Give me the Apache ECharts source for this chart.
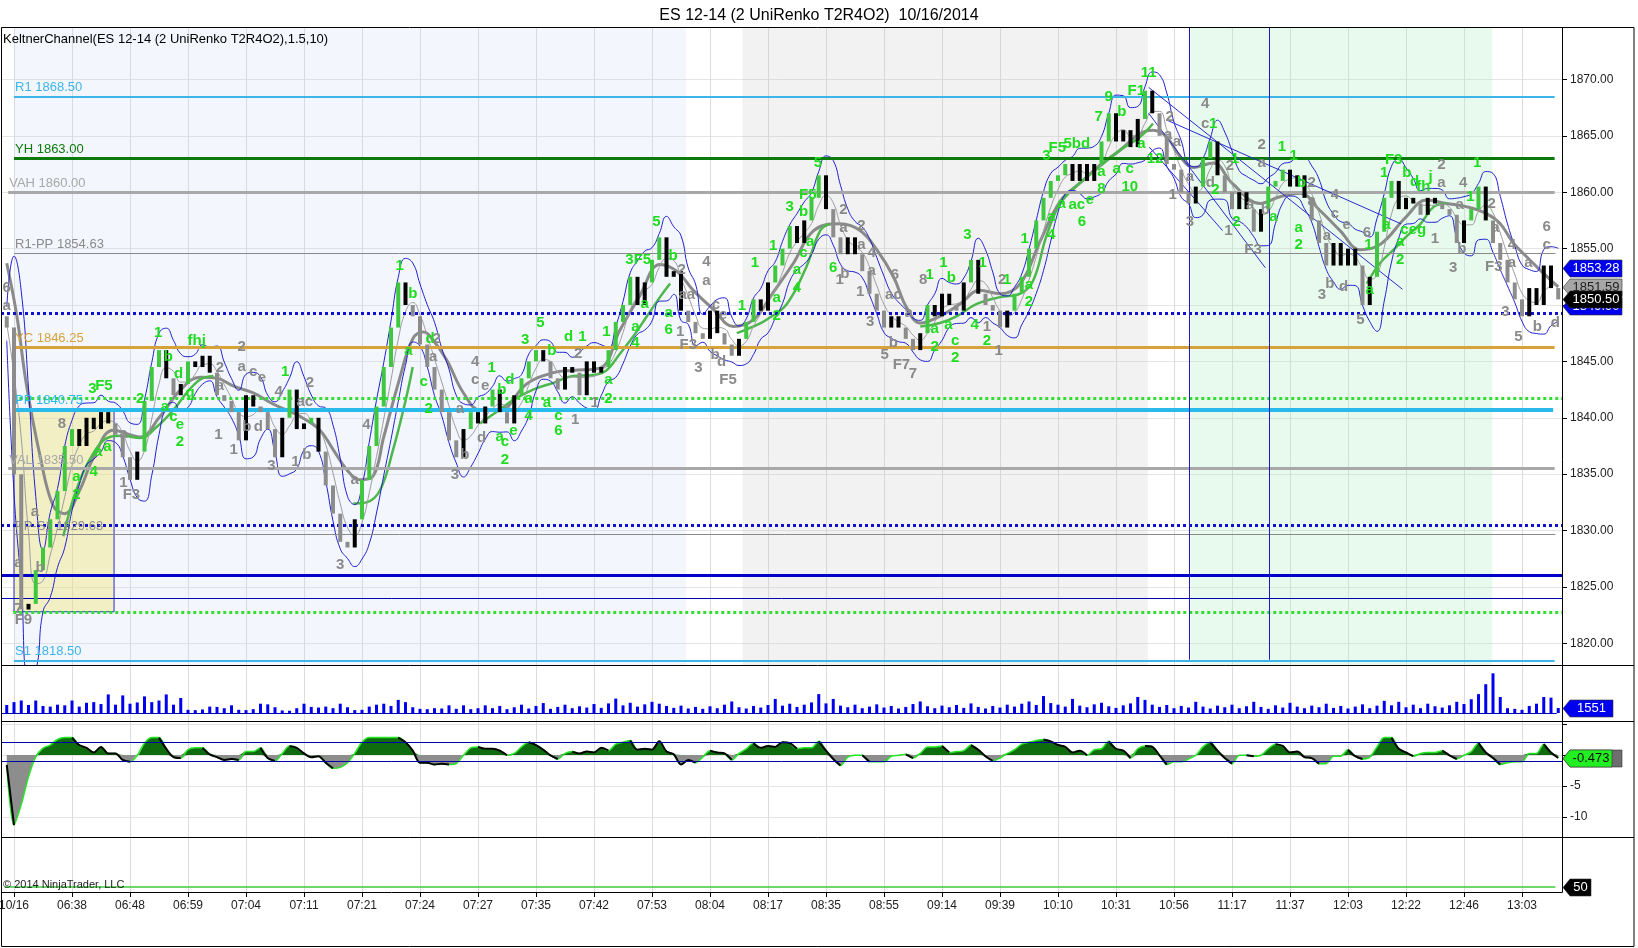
<!DOCTYPE html>
<html><head><meta charset="utf-8">
<script src="https://cdn.jsdelivr.net/npm/echarts@6/dist/echarts.min.js"></script>
<style>html,body{margin:0;padding:0;background:#fff}#c{width:1638px;height:948px}</style>
</head><body><div id="c"></div>
<script>
// ---------------- DATA ----------------
const timeLabels = ['10/16','06:38','06:48','06:59','07:04','07:11','07:21','07:24','07:27','07:35','07:42','07:53','08:04','08:17','08:35','08:55','09:14','09:39','10:10','10:31','10:56','11:17','11:37','12:03','12:22','12:46','13:03'];

const firstOpen = 1849;
const closes = [
1848,1835,1823,1823.5,1826.5,1828.5,1831,1833.5,1837.5,1839,
1837.5,1840,1839,1840.5,1839.5,1838.5,1836.5,1834.5,1837,1841.5,
1844.5,1846,1843.5,1842,1843,1845,1844.5,1845.5,1844,1842,
1841.5,1840.5,1838,1842,1841,1840.5,1839,1836.5,1840,1842.5,
1839,1839.5,1840,1837,1834,1831.5,1829,1828.5,1831,1834.5,
1837.5,1841,1844.5,1848,1852,1850,1849,1846.5,1844.5,1842.5,
1840.5,1838,1836.5,1839,1840.5,1839.5,1841,1842.5,1840.5,1839.5,
1842,1843.5,1845,1846,1845,1843.5,1842.5,1844.5,1844,1842,
1845,1844,1844.5,1846,1848.5,1850,1852.5,1850,1852,1854,
1856,1852.5,1853,1849.5,1848.5,1847.5,1847,1849.5,1847.5,1846.5,
1845.5,1847,1848.5,1850.5,1849.5,1852,1853.5,1855,1857,1855.5,
1857.5,1859.5,1861.5,1858.5,1856,1854.5,1856,1854.5,1853,1851,
1849.5,1848,1849,1848,1847,1846,1847.5,1850,1849,1851,
1850,1849.5,1852,1854,1851,1850,1849.5,1848,1849.5,1851,
1852.5,1855,1857.5,1859.5,1861,1861.5,1862.5,1861,1862.5,1861,
1862.5,1864.5,1867,1864.5,1865.5,1864,1866.5,1869,1867,1865,
1862.5,1862,1860,1859,1860.5,1863,1864.5,1861.5,1860,1858.5,
1860,1858.5,1856.5,1858.5,1860.5,1861,1862,1860.5,1861.5,1859.5,
1857.5,1855.5,1853.5,1855.5,1853.5,1855,1853.5,1850,1852.5,1856.5,
1859.5,1861,1858.5,1859.5,1859,1858,1859.5,1859,1858.5,1858,
1855.5,1857.5,1858.5,1860.5,1857.5,1855.5,1854,1852,1850.5,1849,
1851.5,1850,1853.5,1851.5,1850.5];

const volumes = [
2500,3400,3900,2500,3900,2200,2000,2600,2400,3900,
2000,3200,3400,2800,5800,2600,5500,2900,3300,5200,
3400,3900,5800,2600,4700,1000,900,1100,2000,1900,
1500,2400,1000,900,1200,2900,2700,1800,800,700,
1500,2900,1900,1700,2000,1500,2900,1800,900,1000,
2000,2600,2900,2200,4100,3400,1800,1300,1200,1500,
1400,2400,1300,2400,1200,1500,2400,1500,2200,1200,
1800,2600,1400,2200,3100,1300,1900,2600,1500,2100,
1700,2800,1600,3000,4500,2400,3200,2000,2700,3500,
2900,2200,1600,2300,1400,1900,1300,2100,1500,2600,
3600,1800,1400,2200,1700,2500,4400,2300,2900,1900,
2600,3300,5900,3000,4400,2300,1800,2600,1500,2000,
2700,1700,2200,1400,1900,2800,3600,2100,1500,2300,
1800,2500,1600,3000,1900,1400,2200,1700,2600,2000,
2900,3600,2500,5300,3100,2600,2000,4400,2300,1800,
2700,3200,2100,1600,2400,3000,5000,4100,2600,1900,
2500,1500,2200,1700,3500,2000,1400,2300,1800,2600,
1500,2100,3500,1900,1300,2400,1700,3200,2000,1500,
2300,1800,2900,1600,2200,1400,2000,2700,1500,2300,
3800,2400,3500,1800,2600,1500,2900,2100,1700,2400,
3500,2800,4300,5900,9000,12400,5000,1500,1300,1000,
2200,2900,5000,4800,1551];

const oscValues = [
-1.6,-11.3,-8,-3.5,-0.3,1.1,1.6,2.5,2.8,2.8,
1.6,1.15,0.4,1.3,0.25,0.25,-0.8,-1.1,-0.05,1.9,
2.8,2.8,1.0,-0.35,-0.5,0.85,1.15,1.15,0.1,-0.35,
-0.8,-0.65,-0.8,0.55,0.55,1.15,-0.5,-0.95,0.25,1.45,
1.15,0.25,-0.35,-0.2,-1.25,-2.15,-2.0,-1.25,0.25,2.05,
2.8,2.8,2.8,2.8,2.8,2.05,0.7,-1.25,-1.25,-1.55,
-1.4,-1.55,-1.4,-0.05,1.15,1.3,1.0,1.0,0.7,-0.05,
0.25,1.3,2.05,1.6,0.85,-0.05,-0.65,0.25,0.55,0.25,
0.55,0.4,1.15,0.7,1.75,2.05,2.35,0.85,1.0,0.85,
2.2,0.55,0.1,-1.55,-0.8,-1.25,-0.35,0.7,0.4,0.25,
-0.8,0.25,1.0,1.9,1.15,1.45,1.3,2.05,1.9,1.0,
1.15,1.15,2.2,0.7,-0.65,-1.7,-0.35,-0.05,-0.05,-1.1,
-1.1,-1.1,-0.2,-0.05,0.1,-0.5,0.25,1.3,1.3,1.45,
0.4,0.55,0.7,1.6,0.85,-0.2,-0.95,-0.5,0.25,0.85,
1.75,2.05,2.35,2.5,2.2,1.6,1.3,0.4,0.7,-0.05,
0.85,1.0,2.2,1.0,0.7,-0.5,1.0,1.45,1.3,-0.05,
-1.55,-1.1,-1.1,-0.65,-0.05,1.3,2.05,0.7,-0.5,-1.4,
-0.05,-0.05,-0.2,-0.05,1.0,1.75,1.45,0.4,0.55,-0.35,
-0.5,-1.4,-1.4,-0.2,-0.2,0.85,-0.2,-0.65,-0.35,1.3,
2.8,2.8,1.0,0.4,-0.2,0.25,0.4,0.4,0.7,-0.05,
-0.65,-0.05,0.55,1.9,0.4,-0.5,-1.55,-1.25,-1.1,-1.1,
0.25,0.25,1.75,0.4,-0.473];
const oscBands = [2, -1];

const grayMA = [[0,1853.7],[1.4,1849],[2.7,1843],[4.6,1836.6],[6.4,1832.2],[8,1831.5],[10,1833.5],[12,1836.5],[14.7,1838.9],[18.4,1838.3],[21,1840],[24,1842.5],[26.7,1843.6],[29,1843.5],[31.3,1842.8],[34,1842.2],[36.8,1841.2],[40.5,1840.1],[43.2,1838.9],[45,1837.2],[46.9,1835.4],[48.7,1834.5],[50.5,1834.8],[52,1838.3],[54.2,1843.5],[56,1847],[57.5,1847.6],[58.8,1846.9],[60.7,1845.1],[63,1842.2],[65.3,1840.7],[68,1840.7],[71.7,1843],[75.4,1844],[78.1,1844.2],[81.8,1844.4],[84.6,1847.8],[87.3,1850.8],[90.1,1853.6],[92.4,1853],[94.7,1851.3],[97.5,1849.6],[100.2,1848.1],[103,1848.7],[105.7,1851.1],[108.5,1853.7],[111.3,1856.6],[114.9,1857.2],[117.7,1856.6],[120,1854.9],[122.3,1852.5],[124.1,1849.8],[126,1848.4],[128.7,1849],[131.5,1850.1],[134.2,1851.3],[137,1851],[139.8,1851.9],[142.5,1855.6],[145.3,1859.2],[148,1860.8],[150.8,1862.4],[153.5,1863.7],[156.3,1865.2],[158.1,1865.5],[160,1864.9],[161.8,1863.2],[163.7,1862.2],[166.4,1862.6],[169,1860.8],[172.9,1859],[175.6,1859.6],[178.4,1859.9],[181.1,1858.4],[183.9,1856.6],[186.7,1854.9],[189.5,1855.4],[193,1857.8],[195.8,1859.3],[198.6,1859],[201.4,1858.7],[204.1,1858.1],[206,1857.2],[207.8,1855.5],[209.6,1854.3],[211.5,1853.1],[214,1851.6]];

const greenSegments = [
 [[7.8,1829.5],[9.6,1833.6],[12,1836.9],[14.2,1838.3],[16,1838.4],[18.4,1838.2],[20.7,1839.2],[23,1840.7],[24.8,1842.2],[26.7,1843.4],[28.5,1843.7]],
 [[47.8,1832.4],[49.6,1832.5],[51.5,1833.6],[53.3,1837.2],[55,1841.5],[56,1844.5]],
 [[65.3,1839.5],[67.5,1840.5],[69.9,1841.6],[72.6,1842.5],[75.4,1843.1],[78.1,1843.7],[80.9,1843.8],[82.7,1844.2],[84.6,1845.7],[86.4,1847.2],[88.3,1849],[90.1,1850.7],[91.5,1851.9]],
 [[100.7,1847.5],[103,1848.1],[104.8,1848.7],[107.6,1850.1],[110.3,1853.4],[112.2,1856.6],[113.5,1857.2]],
 [[126,1848.1],[128.7,1848.4],[131,1849],[133.8,1850.1],[137,1850.7],[139.8,1851],[141.6,1852.2],[143.4,1856.1],[145.3,1859],[148,1860.8],[150.8,1862.3],[153.5,1863.7],[156.3,1864.9],[158.1,1866.1]],
 [[187.6,1851.9],[189.4,1853.7],[191.3,1854.9],[193.1,1856.1],[195,1857.2],[196.8,1858.7],[198.6,1859]]
];

const levels = [
 ['R1',1868.50,'R1 1868.50'],['YH',1863.00,'YH 1863.00'],['VAH',1860.00,'VAH 1860.00'],
 ['R1-PP',1854.63,'R1-PP 1854.63'],['KH',1849.25,''],['YC',1846.25,'YC 1846.25'],
 ['GH',1841.75,''],['PP',1840.75,'PP 1840.75'],['VAL',1835.50,'VAL 1835.50'],
 ['KL',1830.45,''],['PP-S1',1829.63,'PP-S1 1829.63'],['BL',1826.00,''],
 ['BT',1824.00,''],['GL',1822.75,''],['S1',1818.50,'S1 1818.50']
];

const sessions = [[1,93.7,'blue'],[101.5,157.4,'gray'],[163.3,204.9,'green']];
const yellowBox = [1,1840.75,14.8,1822.8];
const verticalLines = [163.1,174.15];
const channelLines = [[157.5,1867.0,173.6,1853.3],[157.5,1869.3,192.5,1851.4],[160.0,1866.4,192.3,1857.2],[157.6,1864.0,167.7,1856.6]];

const waveLabels = [
[0,1851.5,'6','k'],[0,1849.9,'a','k'],[1.6,1827.1,'a','k'],[4.6,1826.7,'b','k'],[1.6,1823.1,'7','k'],[2.3,1822.1,'F9','k'],
[3.9,1831.7,'a','k'],[7.6,1839.5,'8','k'],[9.6,1834.8,'a','g'],[9.6,1833.2,'2','g'],[12,1835.2,'4','g'],[12.6,1837,'a','g'],[13.9,1837.4,'a','g'],
[11.8,1842.6,'3','g'],[13.4,1842.8,'F5','g'],[16.1,1838.6,'a','k'],[16.1,1834.2,'1','k'],[17.2,1833.2,'F3','k'],[18.4,1841.7,'2','g'],
[20.9,1847.5,'1','g'],[22.3,1845.4,'b','g'],[23.7,1843.9,'d','g'],[25.3,1842.2,'g','g'],[21.8,1841,'a','g'],[23,1840.1,'c','g'],[23.9,1839.4,'e','g'],[23.9,1837.9,'2','g'],
[26.2,1846.8,'fhj','g'],[32.4,1846.3,'2','k'],[29.4,1844.4,'2','k'],[32.4,1844.5,'a','k'],[34,1844.1,'c','k'],[35.2,1843.5,'e','k'],[29.4,1842.8,'a','k'],
[29.2,1838.5,'1','k'],[31.3,1837.2,'1','k'],[33.1,1839.2,'b','k'],[34.7,1839.2,'d','k'],[38.4,1844.1,'1','g'],[37.5,1842.3,'4','k'],[41.8,1843.1,'2','k'],[41.1,1841.4,'ac','k'],
[36.5,1835.7,'3','k'],[39.8,1836.1,'1','k'],[41.4,1836.7,'b','k'],[49.6,1839.4,'4','k'],[48,1834.5,'a','k'],[46,1827,'3','k'],
[54.2,1853.5,'1','g'],[56,1851,'b','g'],[55.4,1845.9,'a','g'],
[58.4,1847,'d','g'],[59.3,1847,'2','k'],[58.8,1845.4,'a','k'],[57.5,1843.2,'c','g'],[58.2,1840.8,'2','g'],[62.5,1840.8,'a','k'],
[64.6,1845,'4','k'],[64.6,1843.4,'c','k'],[66,1842.8,'e','k'],[66.9,1844.4,'1','g'],[68.3,1842.5,'b','g'],[69.4,1843.4,'d','g'],
[65.5,1838.2,'d','k'],[63.2,1836.7,'b','k'],[61.8,1834.9,'3','k'],[68,1838.3,'a','g'],[68.7,1837.9,'c','g'],[69.9,1838.8,'e','g'],[68.7,1836.3,'2','g'],
[71.5,1846.9,'3','g'],[73.6,1848.4,'5','g'],[75.2,1845.9,'b','g'],[72,1841.7,'a','g'],[72,1840.2,'4','g'],[74.5,1841.3,'a','g'],[76.1,1840.2,'c','g'],[76.1,1838.8,'6','g'],
[77.5,1847.2,'d','g'],[79.4,1847.2,'1','g'],[78.8,1845.7,'2','k'],[78.4,1839.8,'1','k'],[81.1,1841.3,'1','k'],[83,1843.4,'a','g'],[83,1841.7,'2','g'],[82.7,1847.6,'1','g'],
[87.1,1854,'3F5','g'],[89.6,1857.4,'5','g'],[91.9,1854.4,'b','g'],[93.1,1853.1,'2','k'],[93.8,1850.9,'aa','k'],
[88,1850.1,'a','g'],[86.7,1848.1,'a','g'],[86.7,1846.6,'4','g'],[91.3,1849.3,'a','g'],[91.3,1847.8,'6','g'],
[92.9,1847.6,'1','k'],[94,1846.5,'F3','k'],[95.4,1844.4,'3','k'],[96.5,1853.8,'4','k'],[96.5,1852.1,'a','k'],[97.8,1850,'c','k'],[98.8,1849.1,'e','k'],
[97.7,1845.6,'b','k'],[98.6,1845,'d','k'],[99.5,1843.4,'F5','k'],[101.4,1849.9,'1','g'],[103.2,1853.7,'1','g'],[106.2,1850.6,'a','g'],[106.2,1849,'2','g'],[105.7,1855.2,'1','g'],
[108,1858.7,'3','g'],[109.9,1858.3,'b','g'],[110.5,1859.8,'F5','g'],[109.9,1854.6,'c','g'],[110.8,1855.6,'a','g'],[109,1853.1,'a','g'],[109,1851.5,'4','g'],
[111.9,1862.6,'5','g'],[115.4,1858.4,'2','k'],[117.9,1857,'2','k'],[115.4,1856.8,'a','k'],[117.9,1855.3,'a','k'],[119.3,1854.6,'4','k'],[119.3,1853,'a','k'],
[114,1853.3,'6','g'],[115.6,1852.8,'b','k'],[114.9,1852.2,'1','k'],[117.7,1851.2,'1','k'],[119.1,1848.5,'3','k'],
[122.5,1852.7,'6','k'],[122.3,1850.9,'ac','k'],[124.4,1849.3,'a','k'],[121.1,1845.6,'5','k'],[122.3,1846.6,'b','k'],[123.4,1844.7,'F7','k'],[125,1843.9,'7','k'],
[126.4,1852.2,'8','k'],[127.3,1852.7,'1','g'],[129.2,1853.7,'1','g'],[130.3,1852.4,'b','g'],[132.5,1856.2,'3','g'],[134.6,1853.7,'1','g'],
[128,1847.9,'a','g'],[128,1846.3,'2','g'],[129.9,1848.2,'a','g'],[130.8,1846.8,'c','g'],[130.8,1845.3,'2','g'],
[133.5,1848.2,'4','g'],[135.2,1848.1,'1','k'],[135.2,1846.8,'2','g'],[136.8,1845.9,'1','k'],
[137.3,1852.2,'2','k'],[138,1852.2,'1','g'],[141,1851.8,'a','g'],[141,1850.3,'2','g'],[140.4,1855.9,'1','g'],
[143.4,1863.2,'3','g'],[144.9,1863.9,'F5','g'],[147.6,1864.3,'5bd','g'],[144.1,1857.8,'a','g'],[144.1,1856.2,'4','g'],[145.5,1859,'a','g'],[147.6,1858.9,'ac','g'],[149.4,1859.3,'e','g'],[148.3,1857.4,'6','g'],[151,1861.8,'a','g'],[151,1860.3,'8','g'],
[150.6,1866.7,'7','g'],[152,1868.5,'9','g'],[153.8,1867.1,'b','g'],[153.1,1862.1,'a','g'],[154.9,1862.1,'c','g'],[154.9,1860.5,'10','g'],[156.5,1864.3,'a','g'],
[155.8,1869,'F1','g'],[157.5,1870.6,'11','g'],[160.4,1866.7,'2','k'],[160.2,1865.1,'a','k'],[161.4,1864.5,'a','k'],[158.4,1863,'12','g'],[163.2,1857.4,'3','k'],[160.8,1859.8,'1','k'],
[165.3,1867.8,'4','k'],[165.3,1866.1,'c','k'],[166.4,1866.1,'1','g'],
[163.2,1861.4,'a','k'],[166,1860.8,'d','k'],[166.7,1860.2,'2','g'],[168.7,1862.3,'2','k'],[169.4,1863,'1','g'],
[168.5,1856.6,'1','k'],[169.6,1857.4,'2','g'],[171.5,1858.9,'a','k'],[173.6,1858.4,'b','k'],[171.9,1854.9,'F3','k'],
[173.1,1864.2,'2','k'],[173.1,1862.6,'a','k'],[175.9,1864,'1','g'],[177.5,1863.2,'1','g'],[174.7,1857.8,'a','g'],
[178.6,1860.8,'b','g'],[180,1860.8,'2','k'],[180,1859.2,'a','k'],[183.2,1859.8,'4','k'],[183.2,1858.1,'c','k'],[184.8,1857.1,'e','k'],[182.1,1856.1,'a','k'],
[178.2,1856.8,'a','g'],[178.2,1855.3,'2','g'],[181.4,1850.9,'3','k'],[182.5,1851.9,'b','k'],[184.4,1851.6,'d','k'],
[187.6,1856.4,'6','k'],[187.8,1855.3,'1','g'],[188,1851.3,'a','g'],[186.7,1848.7,'5','k'],
[190,1861.7,'1','g'],[191.3,1862.9,'F3','g'],[193.1,1861.7,'b','g'],[194.2,1860.9,'d','g'],[195.4,1860.5,'fh','g'],[196.4,1861.4,'j','g'],
[190.3,1857.1,'a','g'],[194,1856.7,'ceg','g'],[192.2,1855.6,'a','g'],[192.2,1854,'2','g'],
[197.9,1862.4,'2','k'],[197.9,1860.8,'a','k'],[197,1855.9,'1','k'],[200.9,1860.8,'4','k'],[200.4,1858.9,'a','k'],[200.7,1855,'b','k'],[199.5,1853.3,'3','k'],
[202.8,1862.6,'1','g'],[201.9,1859.6,'1','g'],[204.8,1859,'2','k'],[205.3,1856.8,'a','k'],
[205.1,1853.4,'F3','k'],[207.6,1855.3,'4','k'],[207.6,1853.7,'a','k'],[209.9,1853.7,'a','k'],
[206.7,1849.4,'3','k'],[208.5,1847.2,'5','k'],[211.1,1848.1,'b','k'],[213.6,1848.4,'d','k'],[212.4,1856.9,'6','k'],[212.4,1855.3,'c','k']
];

const priceTags = [['lower',1849.90],['mid',1851.59],['upper',1853.28],['last',1850.50]];
const volumeTag = 1551;
const oscTag = -0.473;
const bottomLevel = 50;

const titleText = 'ES 12-14 (2 UniRenko T2R4O2)  10/16/2014';
const indicatorText = 'KeltnerChannel(ES 12-14 (2 UniRenko T2R4O2),1.5,10)';
const copyrightText = '\u00a9 2014 NinjaTrader, LLC';

// ---------------- STYLE / LAYOUT ----------------
const FONT = '"Liberation Sans", Arial, Helvetica, sans-serif';
const X_MIN = -0.793, X_MAX = 214.517;
const levelStyle = {
 'R1':{c:'#3db5e8',w:2,t:'solid',from:1,to:213.5},
 'YH':{c:'#0b7a0b',w:3,t:'solid',from:1,to:213.5},
 'VAH':{c:'#a8a8a8',w:3,t:'solid',from:0.2,to:213.5},
 'R1-PP':{c:'#8a8a8a',w:1,t:'solid',from:1,to:213.6},
 'KH':{c:'#1010d0',w:3,t:'dotted',from:X_MIN,to:X_MAX},
 'YC':{c:'#d6a23a',w:3,t:'solid',from:1,to:213.5},
 'GH':{c:'#33dd33',w:3,t:'dotted',from:0.9,to:X_MAX},
 'PP':{c:'#29b9ea',w:4,t:'solid',from:1,to:213.3},
 'VAL':{c:'#a8a8a8',w:3,t:'solid',from:0.2,to:213.5},
 'KL':{c:'#1010d0',w:3,t:'dotted',from:X_MIN,to:X_MAX},
 'PP-S1':{c:'#8a8a8a',w:1,t:'solid',from:1,to:213.6},
 'BL':{c:'#0000c8',w:3,t:'solid',from:X_MIN,to:X_MAX},
 'BT':{c:'#0000b0',w:1,t:'solid',from:X_MIN,to:X_MAX},
 'GL':{c:'#33dd33',w:3,t:'dotted',from:0.9,to:X_MAX},
 'S1':{c:'#3db5e8',w:2,t:'solid',from:1,to:213.5}
};
const shadeColors = {blue:'rgba(200,212,245,0.22)', gray:'rgba(200,200,200,0.24)', green:'rgba(175,238,195,0.30)'};
const waveColors = {g:'#1fdc1f', k:'#8a8a8a'};
const candleColors = ['#3fc83f','#8c8c8c','#000000'];
const tagStyle = {
 lower:{fill:'#0000ee',color:'#fff',w:59},
 mid:{fill:'#a6a6a6',color:'#222',w:59},
 upper:{fill:'#0000ee',color:'#fff',w:59},
 last:{fill:'#000',color:'#fff',w:59}
};

// ---------------- DERIVED ----------------
const opens = closes.map((c,i)=> i===0 ? firstOpen : closes[i-1]);
const highs = closes.map((c,i)=> Math.max(c, opens[i]));
const lows  = closes.map((c,i)=> Math.min(c, opens[i]));
const KC_PERIOD = 3, KC_MULT = 1.5;
const kcMid=[], kcUp=[], kcLo=[];
closes.forEach((c,i)=>{
  let s=0,r=0,n=0;
  for(let j=Math.max(0,i-KC_PERIOD+1);j<=i;j++){ s+=(highs[j]+lows[j]+closes[j])/3; r+=highs[j]-lows[j]; n++; }
  const m=s/n, rg=r/n;
  kcMid.push([i,m]); kcUp.push([i,m+KC_MULT*rg]); kcLo.push([i,m-KC_MULT*rg]);
});
const kinds = closes.map((c,i)=>{
  const up = c > opens[i];
  const prevUp = i===0 ? up : closes[i-1] > opens[i-1];
  if (up && prevUp) return 0;
  if (!up && !prevUp) return 1;
  return 2;
});

// ---------------- CHART ----------------
const chart = echarts.init(document.getElementById('c'), null, {renderer:'canvas'});
const series = [];

series.push({ type:'line', xAxisIndex:0, yAxisIndex:0, data:[], z:1, silent:true,
  markArea:{ silent:true, data: sessions.map(s=>[{xAxis:s[0], itemStyle:{color:shadeColors[s[2]]}},{xAxis:s[1]}])
    .concat([[{coord:[yellowBox[0],yellowBox[1]], itemStyle:{color:'rgba(240,228,120,0.42)', borderColor:'#2a2ad0', borderWidth:1}},{coord:[yellowBox[2],yellowBox[3]]}]]) }
});

const levelLines = levels.map(l=>{
  const st = levelStyle[l[0]];
  return [{coord:[st.from,l[1]], lineStyle:{color:st.c,width:st.w,type:st.t},
      label:{show:!!l[2], formatter:l[2], position:'insideStartTop', color:st.c, fontSize:13, fontFamily:FONT, distance:[1,2]}},
    {coord:[st.to,l[1]]}];
});
const vLines = verticalLines.map(x=>[{coord:[x,1874.65], lineStyle:{color:'#1a1ac8',width:1,type:'solid'}, label:{show:false}},{coord:[x,1818.55]}]);
const cLines = channelLines.map(c=>[{coord:[c[0],c[1]], lineStyle:{color:'#2a2ad0',width:1,type:'solid'}, label:{show:false}},{coord:[c[2],c[3]]}]);
series.push({ type:'line', xAxisIndex:0, yAxisIndex:0, data:[], z:2, silent:true,
  markLine:{ silent:true, symbol:['none','none'], animation:false, data: levelLines.concat(vLines, cLines) }
});

series.push({ type:'line', xAxisIndex:0, yAxisIndex:0, data:grayMA, smooth:0.4, symbol:'none', z:3, silent:true,
  lineStyle:{color:'#8a8a8a', width:3} });
greenSegments.forEach(seg=>series.push({ type:'line', xAxisIndex:0, yAxisIndex:0, data:seg, smooth:0.4, symbol:'none', z:3, silent:true,
  lineStyle:{color:'#4cb84c', width:2.5} }));
series.push({ type:'line', xAxisIndex:0, yAxisIndex:0, data:kcMid, smooth:0.5, symbol:'none', z:4, silent:true, lineStyle:{color:'#9c9c9c', width:1} });
series.push({ type:'line', xAxisIndex:0, yAxisIndex:0, data:kcUp, smooth:0.5, symbol:'none', z:4, silent:true, lineStyle:{color:'#2020d0', width:1} });
series.push({ type:'line', xAxisIndex:0, yAxisIndex:0, data:kcLo, smooth:0.5, symbol:'none', z:4, silent:true, lineStyle:{color:'#2020d0', width:1} });

series.push({ type:'custom', xAxisIndex:0, yAxisIndex:0, z:5, silent:true,
  data: closes.map((c,i)=>[i, opens[i], c, kinds[i]]),
  encode:{x:0, y:[1,2]},
  renderItem(params, api){
    const x = api.value(0);
    const p1 = api.coord([x, api.value(1)]), p2 = api.coord([x, api.value(2)]);
    const top = Math.min(p1[1],p2[1]); const h = Math.max(Math.abs(p1[1]-p2[1]), 2);
    return {type:'rect', shape:{x:p1[0]-2, y:top, width:4, height:h}, style:{fill:candleColors[api.value(3)]}};
  }
});

series.push({ type:'custom', xAxisIndex:0, yAxisIndex:0, z:6, silent:true,
  data: waveLabels.map(l=>[l[0],l[1]]),
  renderItem(params, api){
    const l = waveLabels[params.dataIndex];
    const p = api.coord([api.value(0), api.value(1)]);
    return {type:'text', x:p[0], y:p[1], style:{text:l[2], fill:waveColors[l[3]], font:'bold 15px '+FONT, align:'center', verticalAlign:'middle'}};
  }
});

function tagSeries(xi, yi, tags){
  return { type:'custom', xAxisIndex:xi, yAxisIndex:yi, z:30, silent:true, clip:false,
    data: tags.map(t=>[X_MAX, t.value]),
    renderItem(params, api){
      const t = tags[params.dataIndex];
      const p = api.coord([X_MAX, api.value(1)]);
      const x0 = p[0]+1, y = Math.round(p[1])+0.5, h = 17, w = t.w;
      return {type:'group', children:[
        {type:'polygon', shape:{points:[[x0,y],[x0+7,y-h/2],[x0+w,y-h/2],[x0+w,y+h/2],[x0+7,y+h/2]]}, style:{fill:t.fill, stroke:t.stroke||'#333', lineWidth:0.6}},
        {type:'text', x:x0+7+(w-7)/2, y:y, style:{text:t.text, fill:t.color, font:'13px '+FONT, align:'center', verticalAlign:'middle'}}
      ]};
    }
  };
}
series.push(tagSeries(0,0, priceTags.map(t=>({value:t[1], text:t[1].toFixed(2), fill:tagStyle[t[0]].fill, color:tagStyle[t[0]].color, w:tagStyle[t[0]].w}))));

// volume
series.push({ type:'bar', xAxisIndex:1, yAxisIndex:1, data:volumes.map((v,i)=>[i,v]), barWidth:3, z:3, silent:true,
  itemStyle:{color:'#0000ee'},
  markLine:{silent:true, symbol:['none','none'], label:{show:false}, data:[[{coord:[X_MIN,0], lineStyle:{color:'#0000c0',width:1,type:'solid'}},{coord:[213.8,0]}]]} });
series.push(tagSeries(1,1,[{value:volumeTag, text:String(volumeTag), fill:'#0000ee', color:'#fff', w:50}]));

// oscillator: filled area split by sign for colouring, plus the line
series.push({ type:'line', xAxisIndex:2, yAxisIndex:2, data:oscValues.map((v,i)=>[i, v>0 ? v : 0]), smooth:0.3, symbol:'none', z:2, silent:true,
  lineStyle:{width:0, color:'#0e6b0e'}, areaStyle:{color:'#0e6b0e', opacity:1} });
series.push({ type:'line', xAxisIndex:2, yAxisIndex:2, data:oscValues.map((v,i)=>[i, v<0 ? v : 0]), smooth:0.3, symbol:'none', z:2, silent:true,
  lineStyle:{width:0, color:'#8d8d8d'}, areaStyle:{color:'#8d8d8d', opacity:1} });
series.push({ type:'line', xAxisIndex:2, yAxisIndex:2, data:oscValues.map((v,i)=>[i,v]), smooth:0.3, symbol:'none', z:3, silent:true,
  lineStyle:{color:'#25e625', width:1.5},
  markLine:{silent:true, symbol:['none','none'], label:{show:false}, data: oscBands.map(b=>[{coord:[X_MIN,b], lineStyle:{color:'#0000a8',width:1,type:'solid'}},{coord:[X_MAX,b]}])} });
const falling = oscValues.map((v,i)=>{
  const a = i>0 && v < oscValues[i-1];
  const b = i<oscValues.length-1 && oscValues[i+1] < v;
  return [i, (a||b) ? v : null];
});
series.push({ type:'line', xAxisIndex:2, yAxisIndex:2, data:falling, smooth:0.3, symbol:'none', z:4, silent:true, connectNulls:false,
  lineStyle:{color:'#000', width:2} });
series.push(tagSeries(2,2,[{value:oscTag, text:'', fill:'#6e6e6e', color:'#fff', w:59},{value:oscTag, text:String(oscTag), fill:'#22ee22', color:'#111', w:49}]));

// bottom panel
series.push({ type:'line', xAxisIndex:3, yAxisIndex:3, data:[[X_MIN+0.5,bottomLevel],[213.6,bottomLevel]], symbol:'none', z:3, silent:true,
  lineStyle:{color:'#3ccc3c', width:1.5} });
series.push(tagSeries(3,3,[{value:bottomLevel, text:String(bottomLevel), fill:'#000', color:'#fff', w:28}]));

const gridBase = {left:1, width:1561, outerBoundsMode:'none', containLabel:false};
const hiddenX = g => ({type:'value', gridIndex:g, min:X_MIN, max:X_MAX, show:false, axisLine:{show:false, onZero:false}});
const fmt5 = v => (Math.abs(v/5-Math.round(v/5))<1e-6) ? v.toFixed(2) : '';

chart.setOption({
  animation:false,
  backgroundColor:'#ffffff',
  textStyle:{fontFamily:FONT},
  title:{text:titleText, left:'center', top:3, textStyle:{fontSize:16, fontWeight:'normal', color:'#000', fontFamily:FONT}},
  grid:[
    Object.assign({top:27, height:638}, gridBase),
    Object.assign({top:665, height:48}, gridBase),
    Object.assign({top:721, height:116}, gridBase),
    Object.assign({top:837, height:55}, gridBase),
    {left:14, width:1508, top:27, height:865, outerBoundsMode:'none', containLabel:false}
  ],
  xAxis:[hiddenX(0),hiddenX(1),hiddenX(2),hiddenX(3),
    {type:'category', gridIndex:4, data:timeLabels, boundaryGap:false, position:'bottom',
     axisLine:{show:false, onZero:false}, axisTick:{show:true, length:5, lineStyle:{color:'#000'}},
     axisLabel:{interval:0, color:'#222', fontSize:12, margin:8, fontFamily:FONT},
     splitLine:{show:true, lineStyle:{color:'#dcdcdc', width:1}}}],
  yAxis:[
    {type:'value', gridIndex:0, position:'right', min:1818.08, max:1874.65, minInterval:5, maxInterval:5,
     axisLine:{show:false, onZero:false}, axisTick:{show:true, length:5, lineStyle:{color:'#000'}},
     axisLabel:{color:'#222', fontSize:12, margin:8, fontFamily:FONT, formatter:fmt5, showMinLabel:false, showMaxLabel:false},
     splitLine:{show:true, lineStyle:{color:'#e4e4e4'}}},
    {type:'value', gridIndex:1, min:0, max:15000, show:false, axisLine:{onZero:false}},
    {type:'value', gridIndex:2, position:'right', min:-13.23, max:5.48, minInterval:5, maxInterval:5,
     axisLine:{show:false, onZero:false}, axisTick:{show:true, length:5, lineStyle:{color:'#000'}},
     axisLabel:{color:'#222', fontSize:12, margin:8, fontFamily:FONT, showMinLabel:false, showMaxLabel:false,
       formatter:v => (Math.abs(v+5)<1e-6 || Math.abs(v+10)<1e-6) ? String(Math.round(v)) : ''},
     splitLine:{show:true, lineStyle:{color:'#e4e4e4'}}},
    {type:'value', gridIndex:3, min:49, max:60, show:false, axisLine:{onZero:false}},
    {type:'value', gridIndex:4, show:false, axisLine:{onZero:false}}
  ],
  graphic:[
    {type:'rect', z:100, silent:true, shape:{x:1.5, y:27.5, width:1632.5, height:919}, style:{fill:null, stroke:'#000', lineWidth:1}},
    {type:'line', z:100, silent:true, shape:{x1:1, y1:665.5, x2:1634, y2:665.5}, style:{stroke:'#000', lineWidth:1}},
    {type:'line', z:100, silent:true, shape:{x1:1, y1:721.5, x2:1634, y2:721.5}, style:{stroke:'#000', lineWidth:1}},
    {type:'line', z:100, silent:true, shape:{x1:1, y1:837.5, x2:1634, y2:837.5}, style:{stroke:'#000', lineWidth:1}},
    {type:'line', z:100, silent:true, shape:{x1:1, y1:892.5, x2:1562.5, y2:892.5}, style:{stroke:'#000', lineWidth:1}},
    {type:'line', z:100, silent:true, shape:{x1:1562.5, y1:27, x2:1562.5, y2:892.5}, style:{stroke:'#000', lineWidth:1}},
    {type:'text', z:100, silent:true, left:3, top:33, style:{text:indicatorText, fill:'#000', font:'13px '+FONT}},
    {type:'text', z:100, silent:true, left:3, top:879, style:{text:copyrightText, fill:'#222', font:'11px '+FONT}}
  ],
  series
});
</script>
</body></html>
